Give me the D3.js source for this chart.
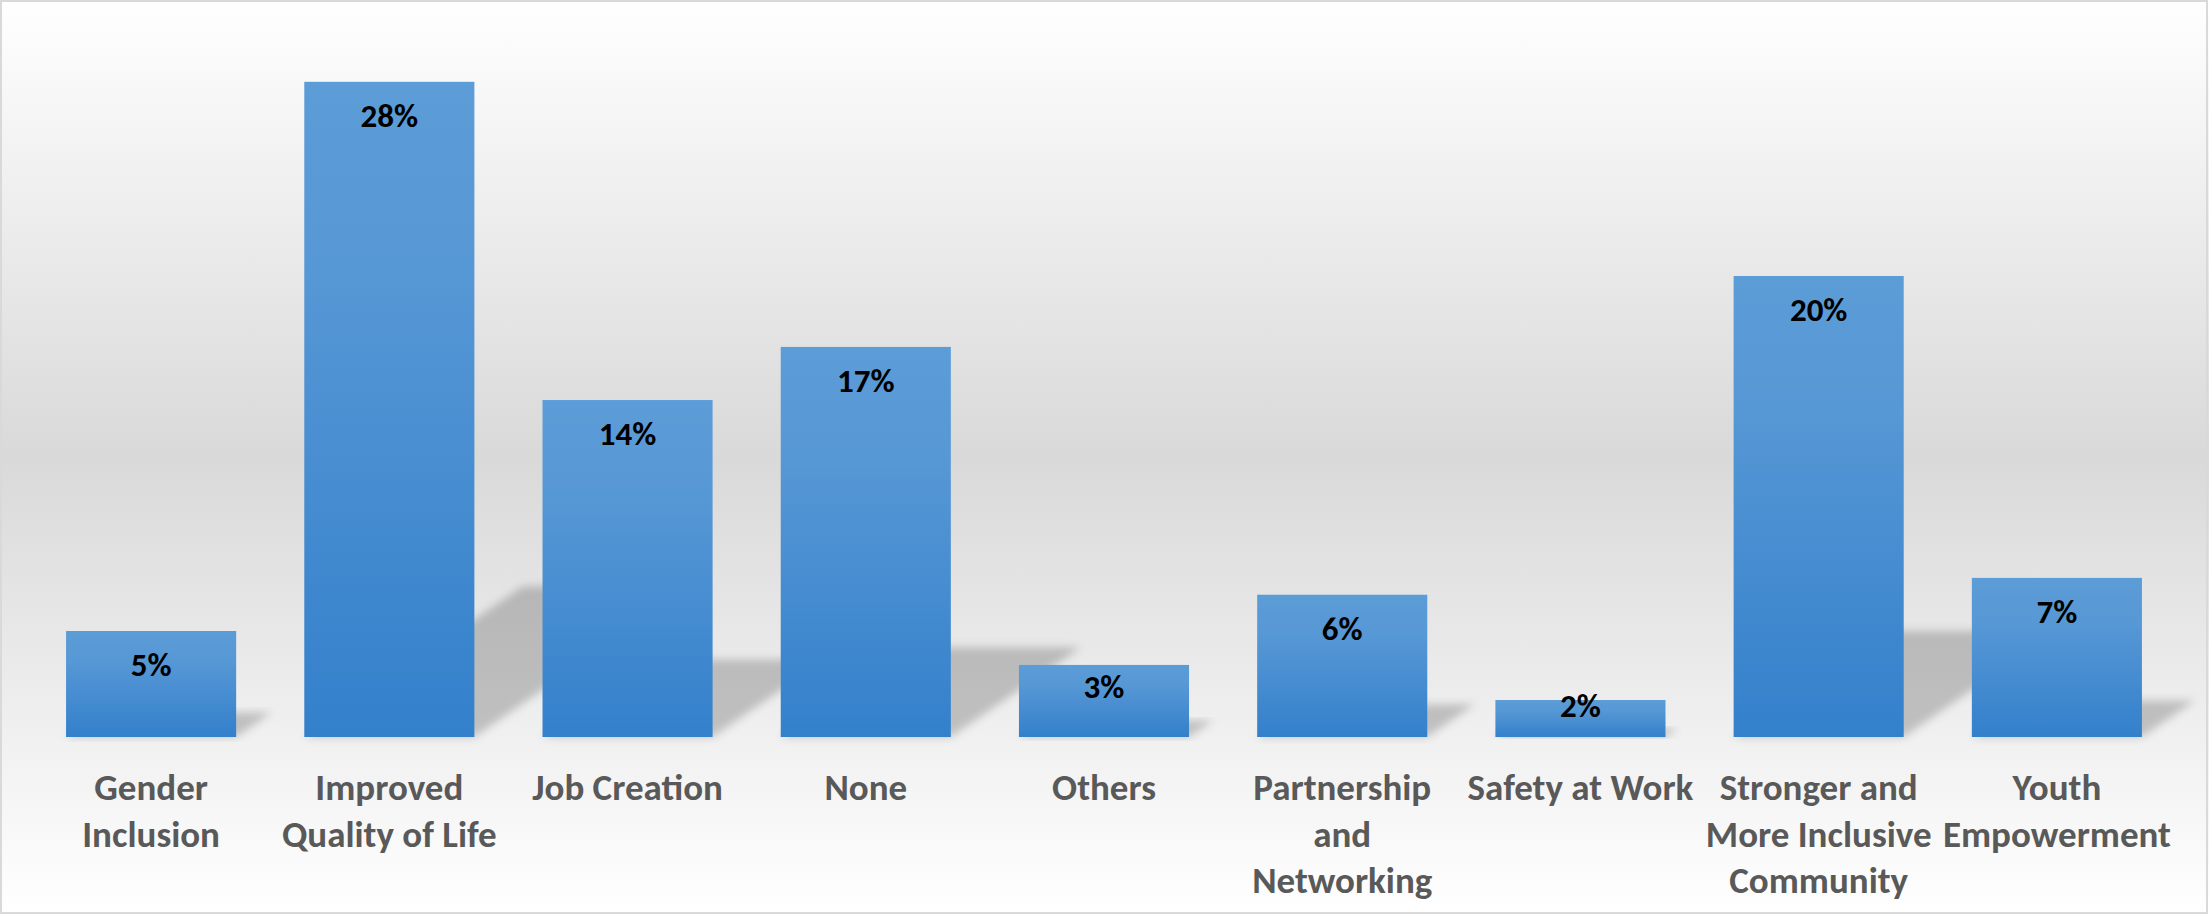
<!doctype html>
<html lang="en">
<head>
<meta charset="utf-8">
<title>Bar chart</title>
<script src="https://cdnjs.cloudflare.com/ajax/libs/d3/7.8.5/d3.min.js"></script>
<style>
  html, body { margin: 0; padding: 0; background: #fff; }
  svg { display: block; }
  .font { font-family: Carlito, Calibri, "Liberation Sans Narrow", "Open Sans", sans-serif; font-weight: bold; }
</style>
</head>
<body>
<svg id="chart"></svg>
<script>
// categories and their wrapped tick labels
const categories = ["Gender Inclusion", "Improved Quality of Life", "Job Creation", "None", "Others",
  "Partnership and Networking", "Safety at Work", "Stronger and More Inclusive Community", "Youth Empowerment"];
const tickLines = [["Gender", "Inclusion"], ["Improved", "Quality of Life"], ["Job Creation"], ["None"], ["Others"],
  ["Partnership", "and", "Networking"], ["Safety at Work"], ["Stronger and", "More Inclusive", "Community"], ["Youth", "Empowerment"]];
// share of responses
const values = [0.0453, 0.280, 0.144, 0.1667, 0.0308, 0.0608, 0.0158, 0.197, 0.068];

const width = 2209, height = 914;
const baseY = 737, topY = 35;

const svg = d3.select("#chart").attr("width", width).attr("height", height);
const defs = svg.append("defs");

// background: white -> grey -> white
const bg = defs.append("linearGradient").attr("id", "bg").attr("x1", 0).attr("y1", 0).attr("x2", 0).attr("y2", 1);
bg.append("stop").attr("offset", "0").attr("stop-color", "#ffffff");
bg.append("stop").attr("offset", "0.5").attr("stop-color", "#d9d9d9");
bg.append("stop").attr("offset", "1").attr("stop-color", "#ffffff");

const barGrad = defs.append("linearGradient").attr("id", "barGrad").attr("x1", 0).attr("y1", 0).attr("x2", 0).attr("y2", 1);
barGrad.append("stop").attr("offset", "0").attr("stop-color", "#5c9cd7");
barGrad.append("stop").attr("offset", "0.3").attr("stop-color", "#5697d5");
barGrad.append("stop").attr("offset", "1").attr("stop-color", "#3380cb");

defs.append("filter").attr("id", "blur").attr("x", "-20%").attr("y", "-20%").attr("width", "140%").attr("height", "140%")
  .append("feGaussianBlur").attr("stdDeviation", 4);

svg.append("rect").attr("width", width).attr("height", height).attr("fill", "url(#bg)");
svg.append("rect").attr("x", 1).attr("y", 1).attr("width", width - 3).attr("height", height - 2)
  .attr("fill", "none").attr("stroke", "#d9d9d9").attr("stroke-width", 2);

const x = d3.scaleBand().domain(categories).range([32, 2176]).paddingInner(0.286).paddingOuter(0.143);
const y = d3.scaleLinear().domain([0, 0.30]).range([baseY, topY]);

const data = categories.map((c, i) => ({ c, v: values[i], lines: tickLines[i] }));

// perspective shadows (flattened and leaning to the right)
const s = 0.23, k = 1.45;
svg.append("g").selectAll("path").data(data).join("path")
  .attr("d", d => {
    const x0 = x(d.c), x1 = x0 + x.bandwidth();
    const hs = (baseY - y(d.v)) * s, dx = hs * k;
    return `M${x0},${baseY}L${x1},${baseY}L${x1 + dx},${baseY - hs}L${x0 + dx},${baseY - hs}Z`;
  })
  .attr("fill", "#000").attr("fill-opacity", 0.2).attr("filter", "url(#blur)");

svg.append("g").selectAll("rect").data(data).join("rect")
  .attr("x", d => x(d.c))
  .attr("y", d => y(d.v))
  .attr("width", x.bandwidth())
  .attr("height", d => baseY - y(d.v))
  .attr("fill", "url(#barGrad)");

// data labels, inside end
const fmt = d3.format(".0%");
svg.append("g").attr("class", "font").selectAll("text").data(data).join("text")
  .attr("x", d => x(d.c) + x.bandwidth() / 2)
  .attr("y", d => y(d.v) + Math.min(45, (baseY - y(d.v)) * 0.46))
  .attr("text-anchor", "middle")
  .attr("font-size", 33)
  .attr("fill", "#000")
  .text(d => fmt(d.v));

// category axis labels
const ticks = svg.append("g").attr("class", "font").attr("fill", "#595959").attr("font-size", 37);
ticks.selectAll("text").data(data).join("text")
  .attr("text-anchor", "middle")
  .attr("transform", d => `translate(${x(d.c) + x.bandwidth() / 2},800)`)
  .selectAll("tspan").data(d => d.lines).join("tspan")
  .attr("x", 0)
  .attr("y", (l, i) => i * 46.5)
  .text(l => l);
</script>
</body>
</html>
